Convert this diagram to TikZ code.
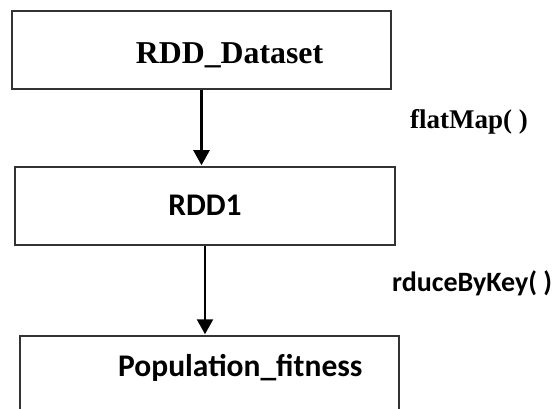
\documentclass[tikz,border=0pt]{standalone}
\usepackage{fontspec}
\setmainfont{Liberation Serif}
\newfontfamily\calibri{Carlito}
\usetikzlibrary{arrows.meta}
\begin{document}
\begin{tikzpicture}[x=1pt,y=-1pt,
  box/.style={draw=black!80, line width=1.5pt, inner sep=0pt},
  flow/.style={line width=2.4pt, shorten >=1pt, -{Triangle[length=15pt,width=16pt]}},
  serifbig/.style={inner sep=0pt, font=\fontsize{31.8}{36}\selectfont\bfseries},
  seriflabel/.style={inner sep=0pt, font=\fontsize{27}{30}\selectfont\bfseries},
  sansbig/.style={inner sep=0pt, font=\calibri\fontsize{31.5}{36}\selectfont\bfseries},
  sanslabel/.style={inner sep=0pt, font=\calibri\fontsize{28}{32}\selectfont\bfseries}]
\useasboundingbox (0,0) rectangle (560,409);

% boxes
\node[box, minimum width=379pt, minimum height=78pt] (ds) at (201.5,50) {};
\node[box, minimum width=380pt, minimum height=78pt] (r1) at (205,206) {};
\node[box, minimum width=379pt, minimum height=88pt] (pf) at (209.5,380) {};

% box texts
\node[serifbig, anchor=base] (tds) at (229.5,64) {RDD\_Dataset};
\node[sansbig, anchor=base] (tr1) at (205,215) {RDD1};
\node[sansbig, anchor=base west] (tpf) at (118,376) {Population\_fitness};

% transformation labels
\node[seriflabel, anchor=base west] (lfm) at (410,129) {flatMap( )};
\node[sanslabel, anchor=base west] (lrk) at (392,291) {rduceByKey( )};

% connectors
\draw[flow] (ds.south) -- (ds.south |- r1.north);
\draw[flow] (r1.south) -- (r1.south |- pf.north);
\end{tikzpicture}
\end{document}
